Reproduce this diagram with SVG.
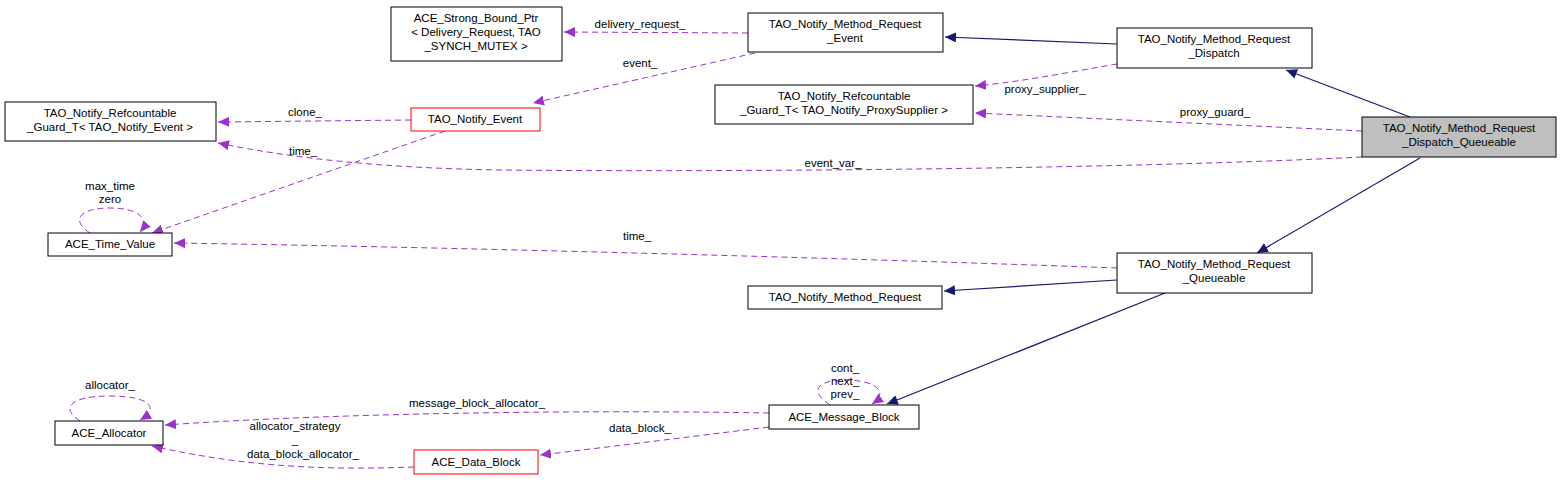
<svg xmlns="http://www.w3.org/2000/svg" width="1563" height="483" viewBox="0 0 1563 483">
<defs>
<style>
text{font-family:"Liberation Sans",Arial,sans-serif;font-size:11.5px;fill:#000;text-anchor:middle}
.n{fill:#fff;stroke:#000;stroke-width:1}
.r{fill:#fff;stroke:#ff0000;stroke-width:1}
.g{fill:#bfbfbf;stroke:#000;stroke-width:1}
.u{fill:none;stroke:#9a32cd;stroke-dasharray:6,4;stroke-width:1}
.i{fill:none;stroke:#191970;stroke-width:1.2}
</style>
<marker id="pu" markerWidth="12" markerHeight="10" refX="11" refY="5" orient="auto" markerUnits="userSpaceOnUse"><path d="M0,0 L11,5 L0,10 z" fill="#9a32cd"/></marker>
<marker id="nv" markerWidth="12" markerHeight="10" refX="11" refY="5" orient="auto" markerUnits="userSpaceOnUse"><path d="M0,0 L11,5 L0,10 z" fill="#191970"/></marker>
</defs>
<rect width="1563" height="483" fill="#fff"/>
<g id="connectors">
<path class="u" d="M748,33 L564,32" marker-end="url(#pu)"/><text x="640" y="28">delivery_request_</text>
<path class="i" d="M1117,44 L945,37" marker-end="url(#nv)"/>
<path class="u" d="M1117,64 C1070,72 1020,82 975,86" marker-end="url(#pu)"/><text x="1045" y="93">proxy_supplier_</text>
<path class="i" d="M1410,117 L1286,70" marker-end="url(#nv)"/>
<path class="u" d="M1362,131 L975,113" marker-end="url(#pu)"/><text x="1215" y="116">proxy_guard_</text>
<path class="u" d="M1362,157 C1100,170 700,172 500,170 C380,168 290,158 218,143" marker-end="url(#pu)"/><text x="833" y="167">event_var_</text>
<text x="303" y="155">time_</text>
<path class="i" d="M1420,158 L1257,253" marker-end="url(#nv)"/>
<path class="u" d="M755,53 L533,103" marker-end="url(#pu)"/><text x="640" y="67">event_</text>
<path class="u" d="M411,120 L218,122" marker-end="url(#pu)"/><text x="305" y="116">clone_</text>
<path class="u" d="M445,131 L152,233" marker-end="url(#pu)"/>
<path class="u" d="M90,233 C70,220 80,208 110,208 C140,208 150,220 140,232" marker-end="url(#pu)"/>
<text x="110" y="190">max_time</text><text x="110" y="203">zero</text>
<path class="u" d="M1117,268 C900,260 500,248 174,243" marker-end="url(#pu)"/><text x="637" y="240">time_</text>
<path class="i" d="M1117,280 L944,291" marker-end="url(#nv)"/>
<path class="i" d="M1165,293 L887,404" marker-end="url(#nv)"/>
<path class="u" d="M830,405 C810,392 815,380 845,380 C875,380 890,392 872,404" marker-end="url(#pu)"/>
<text x="845" y="372">cont_</text><text x="845" y="385">next_</text><text x="845" y="398">prev_</text>
<path class="u" d="M769,413 C600,410 350,412 165,425" marker-end="url(#pu)"/><text x="477" y="407">message_block_allocator_</text>
<path class="u" d="M769,427 C680,438 600,448 540,455" marker-end="url(#pu)"/><text x="640" y="432">data_block_</text>
<path class="u" d="M80,421 C60,408 70,396 110,396 C150,396 160,408 140,420" marker-end="url(#pu)"/><text x="110" y="389">allocator_</text>
<path class="u" d="M414,467 C330,470 250,468 152,446" marker-end="url(#pu)"/>
<text x="295" y="430">allocator_strategy</text><text x="295" y="444">_</text><text x="303" y="458">data_block_allocator_</text>
</g>
<g id="n_strong"><rect class="n" x="391" y="7" width="171" height="54"/><text x="476" y="22">ACE_Strong_Bound_Ptr</text><text x="476" y="36">&lt; Delivery_Request, TAO</text><text x="476" y="50">_SYNCH_MUTEX &gt;</text></g>
<g id="n_event"><rect class="n" x="748" y="13" width="195" height="39"/><text x="845" y="28">TAO_Notify_Method_Request</text><text x="845" y="42">_Event</text></g>
<g id="n_dispatch"><rect class="n" x="1117" y="28" width="195" height="40"/><text x="1214" y="43">TAO_Notify_Method_Request</text><text x="1214" y="57">_Dispatch</text></g>
<g id="n_guardps"><rect class="n" x="715" y="85" width="258" height="39"/><text x="844" y="100">TAO_Notify_Refcountable</text><text x="844" y="114">_Guard_T&lt; TAO_Notify_ProxySupplier &gt;</text></g>
<g id="n_guardev"><rect class="n" x="5" y="102" width="211" height="39"/><text x="110" y="117">TAO_Notify_Refcountable</text><text x="110" y="131">_Guard_T&lt; TAO_Notify_Event &gt;</text></g>
<g id="n_nevent"><rect class="r" x="411" y="108" width="129" height="23"/><text x="475" y="123">TAO_Notify_Event</text></g>
<g id="n_dq"><rect class="g" x="1362" y="117" width="194" height="40"/><text x="1459" y="132">TAO_Notify_Method_Request</text><text x="1459" y="146">_Dispatch_Queueable</text></g>
<g id="n_time"><rect class="n" x="48" y="233" width="124" height="23"/><text x="110" y="248">ACE_Time_Value</text></g>
<g id="n_queue"><rect class="n" x="1117" y="253" width="195" height="40"/><text x="1214" y="268">TAO_Notify_Method_Request</text><text x="1214" y="282">_Queueable</text></g>
<g id="n_req"><rect class="n" x="748" y="286" width="194" height="23"/><text x="845" y="301">TAO_Notify_Method_Request</text></g>
<g id="n_mb"><rect class="n" x="769" y="405" width="150" height="24"/><text x="844" y="421">ACE_Message_Block</text></g>
<g id="n_alloc"><rect class="n" x="55" y="421" width="108" height="24"/><text x="109" y="437">ACE_Allocator</text></g>
<g id="n_db"><rect class="r" x="414" y="450" width="124" height="24"/><text x="476" y="466">ACE_Data_Block</text></g>
</svg>
